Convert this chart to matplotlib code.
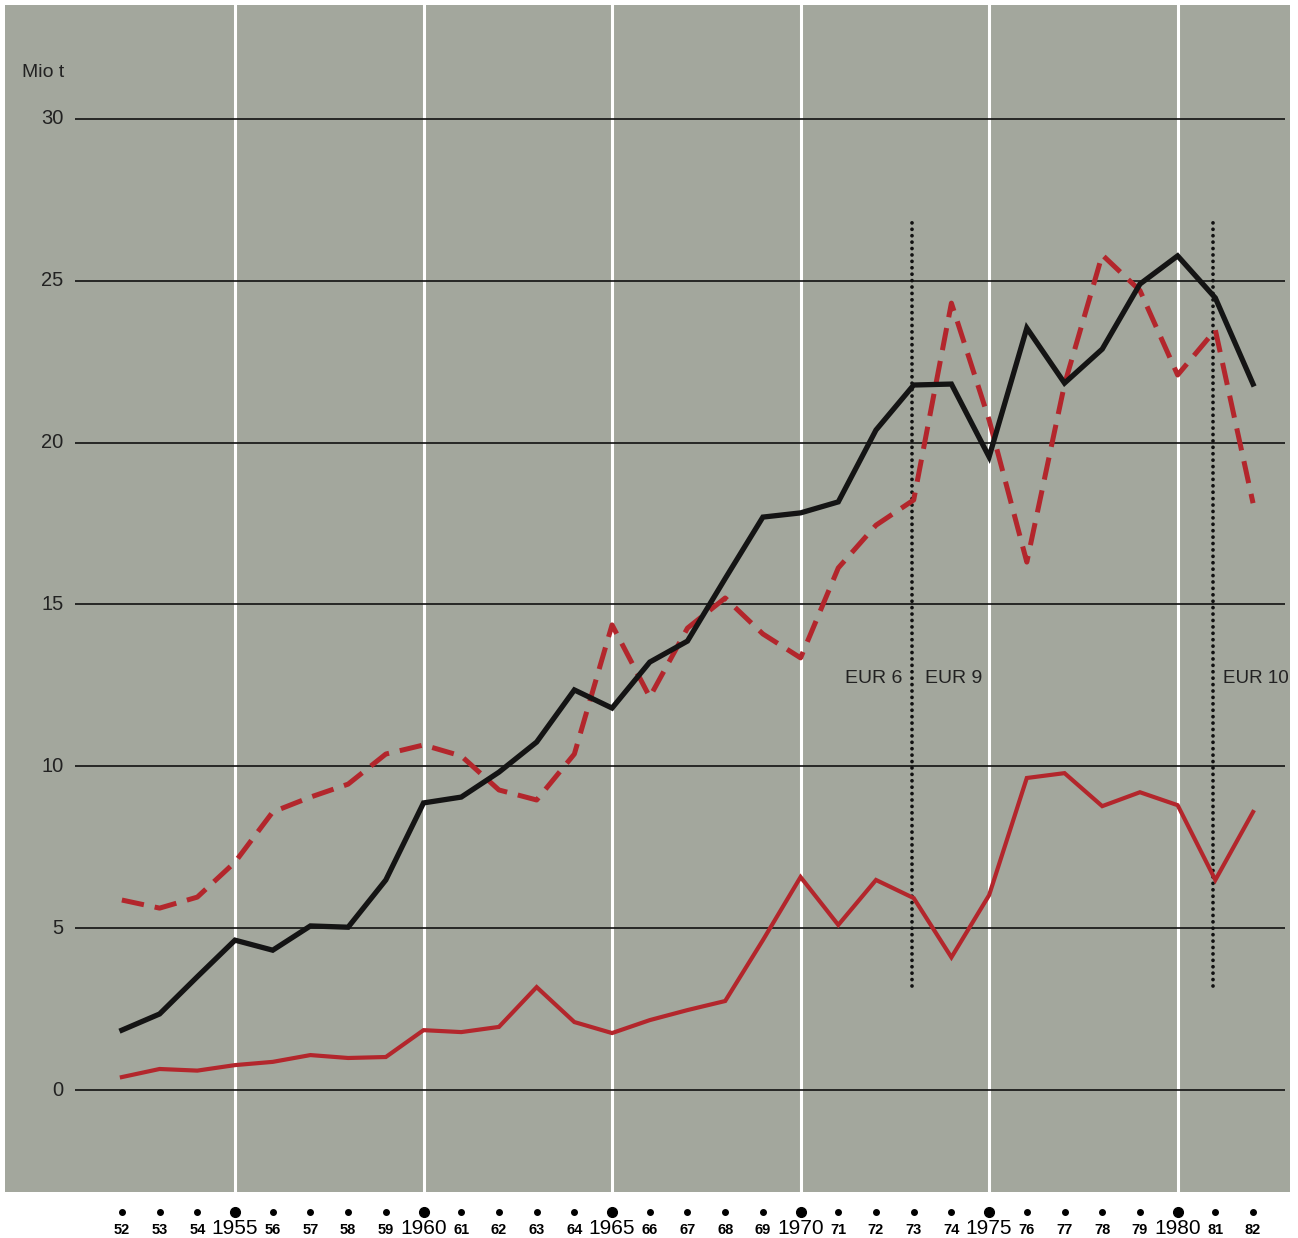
import numpy as np
import matplotlib.pyplot as plt
from matplotlib.transforms import blended_transform_factory

plt.rcParams['font.family'] = ['Liberation Sans', 'DejaVu Sans']

# Jahre 1952-1982
years = np.arange(52, 83)

# Mio t
black_line = [1.85, 2.35, 3.5, 4.63, 4.32, 5.07, 5.03, 6.49, 8.87, 9.05,
              9.82, 10.75, 12.36, 11.8, 13.22, 13.87, 15.8, 17.7, 17.83, 18.17,
              20.39, 21.78, 21.81, 19.56, 23.54, 21.84, 22.89, 24.9, 25.77, 24.47,
              21.81]
red_dashed = [5.87, 5.62, 5.96, 7.04, 8.59, 9.05, 9.45, 10.38, 10.66, 10.32,
              9.27, 8.96, 10.38, 14.37, 12.14, 14.27, 15.2, 14.09, 13.35, 16.13,
              17.45, 18.23, 24.31, 20.7, 16.31, 21.8, 25.8, 24.7, 22.09, 23.48,
              18.13]
red_solid = [0.4, 0.65, 0.6, 0.77, 0.87, 1.08, 0.99, 1.02, 1.85, 1.79,
             1.95, 3.18, 2.1, 1.76, 2.16, 2.47, 2.75, 4.63, 6.58, 5.1,
             6.49, 5.93, 4.1, 6.02, 9.64, 9.79, 8.77, 9.2, 8.8, 6.49,
             8.59]

y_ticks = [0, 5, 10, 15, 20, 25, 30]
eur_marks = [72.95, 80.95]

bg = '#a3a79d'
red = '#b3262c'

fig = plt.figure(figsize=(12.98, 12.38), dpi=100, facecolor='white')
ax = fig.add_axes([5 / 1298, 1 - 1192 / 1238, 1285 / 1298, 1187 / 1238])
ax.set_facecolor(bg)
ax.set_xlim(48.9, 82.98)
ax.set_ylim(-3.15, 33.52)
for s in ax.spines.values():
    s.set_visible(False)
ax.set_xticks([])
ax.set_yticks([])

# weiße Trennlinien alle 5 Jahre
for yr in range(55, 81, 5):
    ax.axvline(yr, color='white', lw=2.2, zorder=1)

# waagerechte Gitterlinien
ax.hlines(y_ticks, 50.75, 82.85, color='#111111', lw=1.2, zorder=2)
for v in y_ticks:
    ax.text(50.45, v, str(v), ha='right', va='center', fontsize=14.5, color='#222222')
ax.text(49.35, 31.45, 'Mio t', ha='left', va='center', fontsize=14, color='#222222')

# EUR Grenzen
for xm in eur_marks:
    ax.plot([xm, xm], [3.2, 26.9], color='#111111', lw=2.7, dashes=(0.01, 1.7),
            dash_capstyle='round', zorder=3)
ax.text(72.7, 12.7, 'EUR 6', ha='right', va='center', fontsize=14, color='#222222')
ax.text(73.3, 12.7, 'EUR 9', ha='left', va='center', fontsize=14, color='#222222')
ax.text(81.2, 12.7, 'EUR 10', ha='left', va='center', fontsize=13.5, color='#222222')

ax.plot(years, red_solid, color=red, lw=3.0, zorder=4, solid_joinstyle='miter')
ax.plot(years, red_dashed, color=red, lw=3.6, dashes=(4.5, 2.2), zorder=5)
ax.plot(years, black_line, color='#141414', lw=3.8, zorder=6, solid_joinstyle='miter')

# Jahresachse unterhalb der Fläche
tr = blended_transform_factory(ax.transData, fig.transFigure)
for yr in years:
    big = (yr % 5 == 0)
    ax.plot([yr], [1 - 1212 / 1238], marker='o', ms=7 if big else 4, color='black',
            transform=tr, clip_on=False)
    if big:
        ax.text(yr, 1 - 1229 / 1238, '19%d' % yr, ha='center', va='center',
                fontsize=15, transform=tr)
    else:
        ax.text(yr, 1 - 1230 / 1238, '%d' % yr, ha='center', va='center',
                fontsize=10.5, fontweight='bold', transform=tr)

fig.savefig('out.png', dpi=100, facecolor='white')
